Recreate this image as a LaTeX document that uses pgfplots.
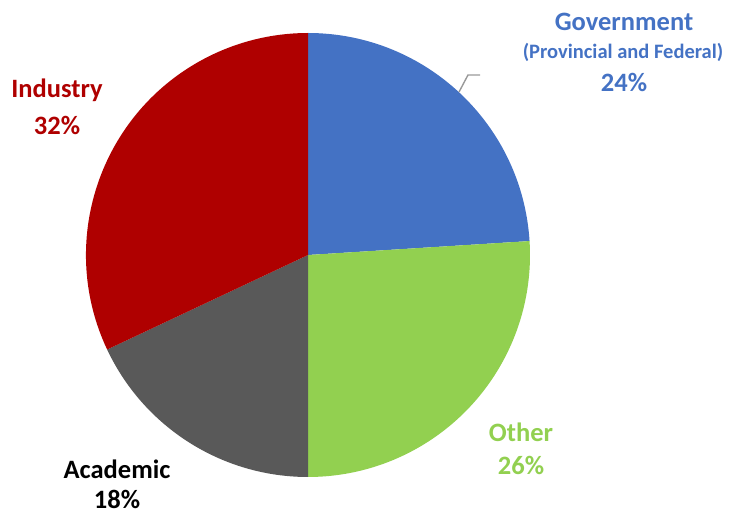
\documentclass[border=0pt]{standalone}
\usepackage{pgfplots}
\pgfplotsset{compat=1.18}
\usepackage{fontspec}
\setmainfont{Carlito}
\definecolor{cgov}{HTML}{4472C4}
\definecolor{coth}{HTML}{92D050}
\definecolor{caca}{HTML}{595959}
\definecolor{cind}{HTML}{AF0000}
% shares in percent
\def\vGov{24}
\def\vOth{26}
\def\vAca{18}
\def\vInd{32}
\tikzset{lab/.style={font=\bfseries\fontsize{26.5}{30}\selectfont, align=center, inner sep=1pt}}
\begin{document}
\begin{tikzpicture}
\begin{axis}[
  hide axis, x=1pt, y=1pt, scale only axis,
  xmin=0, xmax=731, ymin=0, ymax=514,
  clip=false,
]
\path (axis cs:0,0) rectangle (axis cs:731,514);
\pgfmathsetmacro{\aA}{90}
\pgfmathsetmacro{\aB}{90-\vGov*3.6}
\pgfmathsetmacro{\aC}{\aB-\vOth*3.6}
\pgfmathsetmacro{\aD}{\aC-\vAca*3.6}
\pgfmathsetmacro{\aE}{\aD-\vInd*3.6}
\edef\doslices{%
\noexpand\fill[cgov] (axis cs:308,259) -- ++(\aA:222pt) arc[start angle=\aA, end angle=\aB, radius=222pt] -- cycle;
\noexpand\fill[coth] (axis cs:308,259) -- ++(\aB:222pt) arc[start angle=\aB, end angle=\aC, radius=222pt] -- cycle;
\noexpand\fill[caca] (axis cs:308,259) -- ++(\aC:222pt) arc[start angle=\aC, end angle=\aD, radius=222pt] -- cycle;
\noexpand\fill[cind] (axis cs:308,259) -- ++(\aD:222pt) arc[start angle=\aD, end angle=\aE, radius=222pt] -- cycle;
}
\doslices
\draw[gray!80, line width=1.4pt] (axis cs:459,422) -- (axis cs:468,439) -- (axis cs:480,439);
\node[lab, text=cgov] at (axis cs:624,492) {Government};
\node[lab, text=cgov, font=\bfseries\fontsize{20.5}{23}\selectfont] at (axis cs:623,462) {(Provincial and Federal)};
\node[lab, text=cgov] at (axis cs:624,432) {24\%};
\node[lab, text=cind] at (axis cs:57,424) {Industry};
\node[lab, text=cind] at (axis cs:57,389) {32\%};
\node[lab, text=black] at (axis cs:117,45) {Academic};
\node[lab, text=black] at (axis cs:117,14.5) {18\%};
\node[lab, text=coth] at (axis cs:521,82) {Other};
\node[lab, text=coth] at (axis cs:521,49) {26\%};
\end{axis}
\end{tikzpicture}
\end{document}
